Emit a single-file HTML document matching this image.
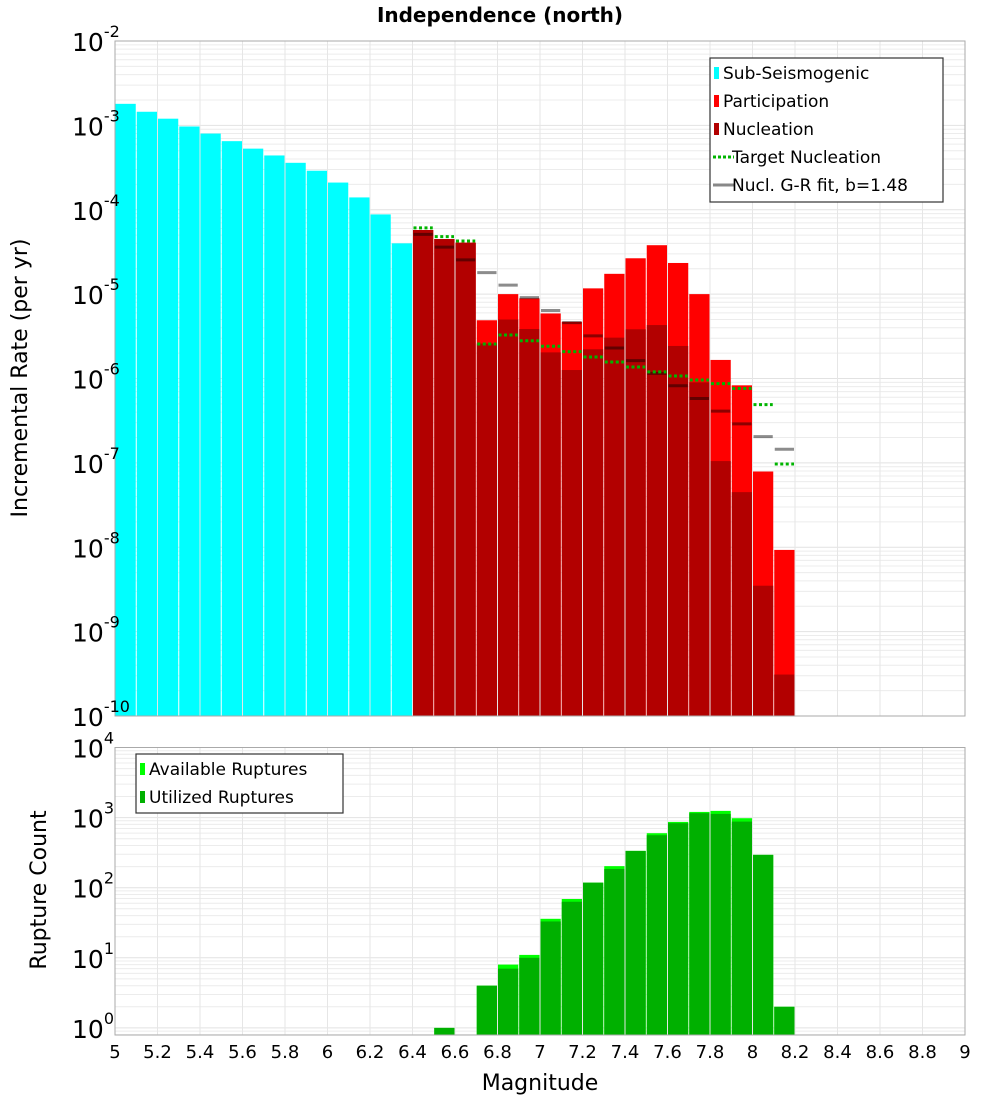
<!DOCTYPE html>
<html><head><meta charset="utf-8"><style>
html,body{margin:0;padding:0;background:#fff;}
svg{display:block;font-family:"DejaVu Sans","Liberation Sans",sans-serif;}
</style></head><body>
<svg id="chart" width="1000" height="1100" xmlns="http://www.w3.org/2000/svg">
<text x="500" y="22" text-anchor="middle" font-size="20" font-weight="bold">Independence (north)</text>
<g id="gtop"></g>
<g id="gbot"></g>
<text transform="translate(27,378) rotate(-90)" text-anchor="middle" font-size="22">Incremental Rate (per yr)</text>
<text transform="translate(46,890) rotate(-90)" text-anchor="middle" font-size="22">Rupture Count</text>
<text x="540" y="1090" text-anchor="middle" font-size="22">Magnitude</text>
</svg>
<script>
const subMags=[5.05,5.15,5.25,5.35,5.45,5.55,5.65,5.75,5.85,5.95,6.05,6.15,6.25,6.35];
const subRates=[1.8e-3,1.45e-3,1.2e-3,9.7e-4,8e-4,6.5e-4,5.3e-4,4.4e-4,3.6e-4,2.9e-4,2.1e-4,1.4e-4,8.8e-5,4e-5];
const faultMags=[6.45,6.55,6.65,6.75,6.85,6.95,7.05,7.15,7.25,7.35,7.45,7.55,7.65,7.75,7.85,7.95,8.05,8.15];
const partRates=[5.75e-5,4.5e-5,4.07e-5,4.9e-6,1.0e-5,8.9e-6,5.9e-6,4.7e-6,1.17e-5,1.74e-5,2.66e-5,3.8e-5,2.34e-5,1.0e-5,1.66e-6,8.3e-7,7.9e-8,9.3e-9];
const nuclRates=[5.75e-5,4.5e-5,4.07e-5,2.6e-6,5.0e-6,3.86e-6,2.04e-6,1.26e-6,2.22e-6,3.05e-6,3.83e-6,4.3e-6,2.43e-6,9.0e-7,1.05e-7,4.5e-8,3.5e-9,3.1e-10];
const targetRates=[6.1e-5,4.8e-5,4.26e-5,2.56e-6,3.28e-6,2.8e-6,2.41e-6,2.08e-6,1.8e-6,1.57e-6,1.37e-6,1.2e-6,1.07e-6,9.6e-7,8.7e-7,7.6e-7,4.9e-7,9.7e-8];
const grRates=[5.1e-5,3.6e-5,2.55e-5,1.8e-5,1.28e-5,9.1e-6,6.4e-6,4.6e-6,3.2e-6,2.3e-6,1.63e-6,1.15e-6,8.2e-7,5.8e-7,4.1e-7,2.9e-7,2.05e-7,1.45e-7];
const countMags=[6.55,6.75,6.85,6.95,7.05,7.15,7.25,7.35,7.45,7.55,7.65,7.75,7.85,7.95,8.05,8.15];
const availCounts=[1,4,8,11,36,69,118,203,335,599,868,1205,1247,980,294,2];
const usedCounts=[1,4,7,10,33,63,118,185,335,561,832,1156,1129,877,294,2];
const xTicks=[5,5.2,5.4,5.6,5.8,6,6.2,6.4,6.6,6.8,7,7.2,7.4,7.6,7.8,8,8.2,8.4,8.6,8.8,9];
const topExps=[-2,-3,-4,-5,-6,-7,-8,-9,-10];
const botExps=[4,3,2,1,0];

const NS="http://www.w3.org/2000/svg";
const X0=115,X1=965;
const xs=m=>X0+(m-5)/4*(X1-X0);
const bw=(X1-X0)/40;
const T0=41,T1=716;
const yTop=v=>T0+(-2-Math.log10(v))/8*(T1-T0);
const B0=747.5,B1=1035,DEC=70.1;
const yBot=v=>B0+(4-Math.log10(v))*DEC;
function mk(parent,tag,attrs){const e=document.createElementNS(NS,tag);for(const k in attrs)e.setAttribute(k,attrs[k]);parent.appendChild(e);return e;}
const gTop=document.getElementById('gtop'),gBot=document.getElementById('gbot');

function grid(g,y0,y1,lo,hi,yf){
  mk(g,'rect',{x:X0,y:y0,width:X1-X0,height:y1-y0,fill:'#fff'});
  for(let d=lo;d<hi;d++){for(let k=1;k<10;k++){const v=Math.pow(10,d)*k;const yy=yf(v);if(yy<y0-0.5||yy>y1+0.5)continue;
    const l=mk(g,'line',{x1:X0,x2:X1,y1:yy,y2:yy,stroke:k==1?'#e2e2e2':'#ececec','stroke-width':1});
    
    }}
  for(const t of xTicks){const l=mk(g,'line',{x1:xs(t),x2:xs(t),y1:y0,y2:y1,stroke:'#e6e6e6','stroke-width':1});
    
    }
}
grid(gTop,T0,T1,-10,-2,yTop);
grid(gBot,B0,B1,-1,4,yBot);

subMags.forEach((m,i)=>{const y=yTop(subRates[i]);const r=mk(gTop,'rect',{x:xs(m)-bw/2+0.5,y:y,width:bw-1,height:T1-y,fill:'#00ffff'});
  
  });
faultMags.forEach((m,i)=>{const y=yTop(partRates[i]);const r=mk(gTop,'rect',{x:xs(m)-bw/2+0.5,y:y,width:bw-1,height:T1-y,fill:'#ff0000'});
  
  
  const y2=yTop(nuclRates[i]);const n=mk(gTop,'rect',{x:xs(m)-bw/2+0.5,y:y2,width:bw-1,height:T1-y2,fill:'#b20000'});
  
  });
faultMags.forEach((m,i)=>{const y=yTop(grRates[i]);const l=mk(gTop,'line',{x1:xs(m)-bw/2+1,x2:xs(m)+bw/2-1,y1:y,y2:y,stroke:'rgba(0,0,0,0.45)','stroke-width':3});
  
  });
faultMags.forEach((m,i)=>{const y=yTop(targetRates[i]);const l=mk(gTop,'line',{x1:xs(m)-bw/2+1,x2:xs(m)+bw/2-1,y1:y,y2:y,stroke:'#00b400','stroke-width':3,'stroke-dasharray':'3,2.5'});
  
  });
countMags.forEach((m,i)=>{const y=yBot(availCounts[i]);const r=mk(gBot,'rect',{x:xs(m)-bw/2+0.5,y:y,width:bw-1,height:B1-y,fill:'#00ff00'});
  
  
  const y2=yBot(usedCounts[i]);const u=mk(gBot,'rect',{x:xs(m)-bw/2+0.5,y:y2,width:bw-1,height:B1-y2,fill:'#00b000'});
  
  });

mk(gTop,'rect',{x:X0,y:T0,width:X1-X0,height:T1-T0,fill:'none',stroke:'#aaa','stroke-width':1});
mk(gBot,'rect',{x:X0,y:B0,width:X1-X0,height:B1-B0,fill:'none',stroke:'#aaa','stroke-width':1});

function ylab(g,e,y){const t=mk(g,'text',{x:72,y:y+10,'font-size':25});
  
  
  t.textContent='10';const s=mk(t,'tspan',{dy:-14,'font-size':16});s.textContent=String(e);}
topExps.forEach(e=>ylab(gTop,e,yTop(Math.pow(10,e))));
botExps.forEach(e=>ylab(gBot,e,yBot(Math.pow(10,e))));
xTicks.forEach(t=>{const tx=mk(gBot,'text',{x:xs(t),y:1058,'text-anchor':'middle','font-size':18});
  
  
  tx.textContent=String(t);});

function legend(g,x,y,w,h,items,name){const lg=mk(g,'g',{});
  
  
  mk(lg,'rect',{x:x,y:y,width:w,height:h,fill:'#fff',stroke:'#333','stroke-width':1.2});
  items.forEach((it,i)=>{const cy=y+15+i*28;
    if(it.type==='box')mk(lg,'rect',{x:x+4,y:cy-6,width:5,height:12,fill:it.c});
    else mk(lg,'line',{x1:x+3,x2:x+24,y1:cy,y2:cy,stroke:it.c,'stroke-width':3,'stroke-dasharray':it.type==='dot'?'3,2':'none'});
    const t=mk(lg,'text',{x:x+(it.type==='box'?13:22),y:cy+6,'font-size':17});t.textContent=it.label;});}
legend(gTop,710,58,233,144,[{type:'box',c:'#00ffff',label:'Sub-Seismogenic'},{type:'box',c:'#ff0000',label:'Participation'},{type:'box',c:'#b20000',label:'Nucleation'},{type:'dot',c:'#00b400',label:'Target Nucleation'},{type:'line',c:'#888',label:'Nucl. G-R fit, b=1.48'}],'rate-legend');
legend(gBot,136,754,207,59,[{type:'box',c:'#00ff00',label:'Available Ruptures'},{type:'box',c:'#00b000',label:'Utilized Ruptures'}],'count-legend');
</script>
</body></html>
